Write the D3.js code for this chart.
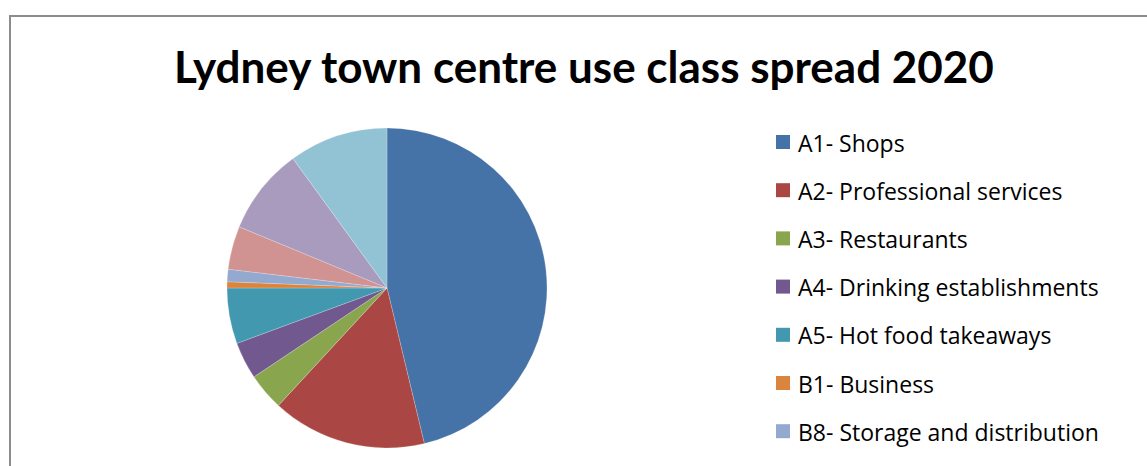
<!DOCTYPE html>
<html>
<head>
<meta charset="utf-8">
<script src="https://cdn.jsdelivr.net/npm/d3@7"></script>
<style>
  html, body { margin: 0; padding: 0; background: #fff; }
  svg { display: block; }
</style>
</head>
<body>
<svg id="chart" width="1147" height="466"></svg>
<script>
// ---- data ----
const categories = [
  "A1- Shops",
  "A2- Professional services",
  "A3- Restaurants",
  "A4- Drinking establishments",
  "A5- Hot food takeaways",
  "B1- Business",
  "B8- Storage and distribution",
  "D1- Non-residential institutions",
  "Sui generis",
  "Vacant"
];
const values = [74, 25, 6, 6, 9, 1, 2, 7, 14, 16];
const colors = ["#4572A7", "#AA4643", "#89A54E", "#71588F", "#4198AF",
                "#DB843D", "#93A9CF", "#D19392", "#A99BBD", "#92C3D4"];
const title = "Lydney town centre use class spread 2020";

// ---- layout ----
const W = 1147, H = 466;
const svg = d3.select("#chart");
const cx = 387, cy = 288, r = 160;

// chart border (extends past the visible area, as in the reference crop)
svg.append("rect")
  .attr("x", 10).attr("y", 16)
  .attr("width", 1200).attr("height", 600)
  .attr("fill", "#fff")
  .attr("stroke", "#8c8c8c")
  .attr("stroke-width", 2);

// title
svg.append("text")
  .attr("x", 584).attr("y", 83)
  .attr("text-anchor", "middle")
  .attr("font-family", "Lato, 'Open Sans', sans-serif")
  .attr("font-weight", "bold")
  .attr("font-size", 44)
  .attr("fill", "#000")
  .text(title);

// pie
const data = categories.map((c, i) => ({ name: c, value: values[i], color: colors[i] }));
const pie = d3.pie().value(d => d.value).sort(null);
const arc = d3.arc().innerRadius(0).outerRadius(r);
svg.append("g")
  .attr("transform", `translate(${cx},${cy})`)
  .selectAll("path")
  .data(pie(data))
  .join("path")
  .attr("d", arc)
  .attr("fill", d => d.data.color)
  .attr("stroke", "#ffffff")
  .attr("stroke-opacity", 0.35)
  .attr("stroke-width", 0.6);

// legend (only the rows that fall inside the visible frame, as in the reference)
const legendY = d3.scaleLinear().domain([0, 1]).range([142, 190.2]);
const legendData = data.filter((d, i) => legendY(i) + 12 < H);
const lg = svg.append("g").selectAll("g")
  .data(legendData)
  .join("g")
  .attr("transform", (d, i) => `translate(776,${legendY(i)})`);
lg.append("rect")
  .attr("x", 0).attr("y", -7)
  .attr("width", 14).attr("height", 14)
  .attr("fill", d => d.color);
lg.append("text")
  .attr("x", 22).attr("y", 9.5)
  .attr("font-family", "'Open Sans', Lato, sans-serif")
  .attr("font-size", 23)
  .attr("fill", "#000")
  .text(d => d.name);
</script>
</body>
</html>
